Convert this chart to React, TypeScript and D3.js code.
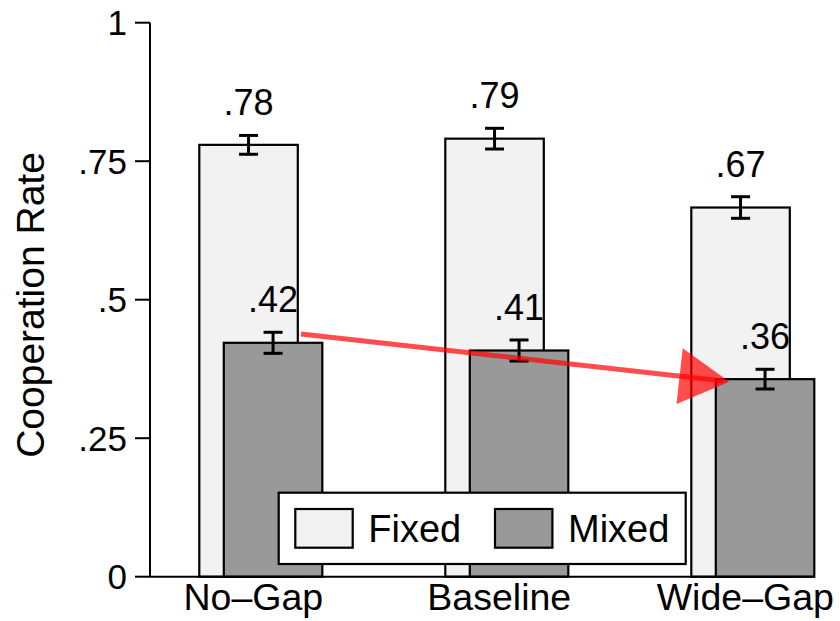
import React from "react";
import * as d3 from "d3";

const categories = ["No–Gap", "Baseline", "Wide–Gap"];
const fixedValues = [0.7795, 0.7907, 0.6664];
const fixedCI = [0.017, 0.0187, 0.0195];
const mixedValues = [0.4222, 0.4083, 0.3566];
const mixedCI = [0.019, 0.019, 0.0178];
const yTicks = [0, 0.25, 0.5, 0.75, 1];
const yTickLabels = ["0", ".25", ".5", ".75", "1"];
const seriesNames = ["Fixed", "Mixed"];
const seriesColors = ["#f2f2f2", "#999999"];
// arrow annotation in data space: position in category-index units, value on y
const arrowFrom = { pos: 0.2134, value: 0.438 };
const arrowTo = { pos: 1.9545, value: 0.352 };

const W = 840;
const H = 621;
const FONT = "'Liberation Sans', Arial, Helvetica, sans-serif";

const fmt = (v: number) => d3.format(".2f")(v).replace(/^0/, "");

export default function App() {
  const y = d3.scaleLinear().domain([0, 1]).range([576.7, 22.7]);
  const group = d3.scalePoint<string>().domain(categories).range([260.8, 752.8]);
  const idx = d3.scaleLinear().domain([0, 2]).range([248.5, 740.5]);
  const barW = 98.5;
  const off = 12.25;
  const capW = 19;
  const axisX = 150;

  const series = [
    { name: seriesNames[0], values: fixedValues, ci: fixedCI, color: seriesColors[0], dx: -off },
    { name: seriesNames[1], values: mixedValues, ci: mixedCI, color: seriesColors[1], dx: off },
  ];

  // arrow geometry
  const x1 = idx(arrowFrom.pos), y1 = y(arrowFrom.value);
  const x2 = idx(arrowTo.pos), y2 = y(arrowTo.value);
  const ang = Math.atan2(y2 - y1, x2 - x1);
  const headLen = 50;
  const headHalf = 28;
  const bx = x2 - headLen * Math.cos(ang), by = y2 - headLen * Math.sin(ang);
  const px = -Math.sin(ang), py = Math.cos(ang);
  const headPts = [
    [x2, y2],
    [bx + headHalf * px, by + headHalf * py],
    [bx - headHalf * px, by - headHalf * py],
  ];

  return (
    <svg width={W} height={H} style={{ position: "absolute", left: 0, top: 0, background: "#fff" }}
      fontFamily={FONT}>
      <rect x={0} y={0} width={W} height={H} fill="#fff" />
      {/* bars */}
      {series.map((s) =>
        categories.map((c, i) => {
          const cx = (group(c) as number) + s.dx;
          return (
            <rect key={s.name + c} x={cx - barW / 2} y={y(s.values[i])} width={barW}
              height={y(0) - y(s.values[i])} fill={s.color} stroke="#000" strokeWidth={2.2} />
          );
        })
      )}
      {/* error bars and value labels */}
      {series.map((s) =>
        categories.map((c, i) => {
          const cx = (group(c) as number) + s.dx;
          const hi = y(s.values[i] + s.ci[i]);
          const lo = y(s.values[i] - s.ci[i]);
          return (
            <g key={"e" + s.name + c}>
              <line x1={cx} x2={cx} y1={hi} y2={lo} stroke="#000" strokeWidth={3} />
              <line x1={cx - capW / 2} x2={cx + capW / 2} y1={hi} y2={hi} stroke="#000" strokeWidth={3} />
              <line x1={cx - capW / 2} x2={cx + capW / 2} y1={lo} y2={lo} stroke="#000" strokeWidth={3} />
              <text x={cx} y={hi - 20} textAnchor="middle" fontSize={36} fill="#000">
                {fmt(s.values[i])}
              </text>
            </g>
          );
        })
      )}
      {/* axes */}
      <line x1={axisX} x2={axisX} y1={y(1)} y2={y(0)} stroke="#000" strokeWidth={2} />
      <line x1={axisX} x2={(group(categories[2]) as number) + off + barW / 2} y1={y(0)} y2={y(0)}
        stroke="#000" strokeWidth={2} />
      {yTicks.map((t, i) => (
        <g key={"t" + t}>
          <line x1={axisX - 15} x2={axisX} y1={y(t)} y2={y(t)} stroke="#000" strokeWidth={2} />
          <text x={axisX - 23} y={y(t) + 12.5} textAnchor="end" fontSize={35} fill="#000">
            {yTickLabels[i]}
          </text>
        </g>
      ))}
      {categories.map((c) => (
        <text key={"c" + c} x={(group(c) as number) - 7.5} y={609.5} textAnchor="middle" fontSize={37.5} fill="#000">
          {c}
        </text>
      ))}
      <text transform={`translate(44,${305}) rotate(-90)`} textAnchor="middle" fontSize={39} fill="#000">
        Cooperation Rate
      </text>
      {/* legend */}
      <rect x={278.7} y={492.7} width={407} height={71.3} fill="#fff" stroke="#000" strokeWidth={2.2} />
      {series.map((s, i) => (
        <g key={"l" + s.name} transform={`translate(${295.3 + i * 199.7},509)`}>
          <rect x={0} y={0} width={57.4} height={38.7} fill={s.color} stroke="#000" strokeWidth={2.2} />
          <text x={73} y={33} fontSize={38} fill="#000">{s.name}</text>
        </g>
      ))}
      {/* arrow */}
      <line x1={x1} y1={y1} x2={x2 - 6 * Math.cos(ang)} y2={y2 - 6 * Math.sin(ang)} stroke="#ff0000"
        strokeOpacity={0.7} strokeWidth={5} />
      <polygon points={headPts.map((p) => p.join(",")).join(" ")} fill="#ff0000" fillOpacity={0.7} />
    </svg>
  );
}
